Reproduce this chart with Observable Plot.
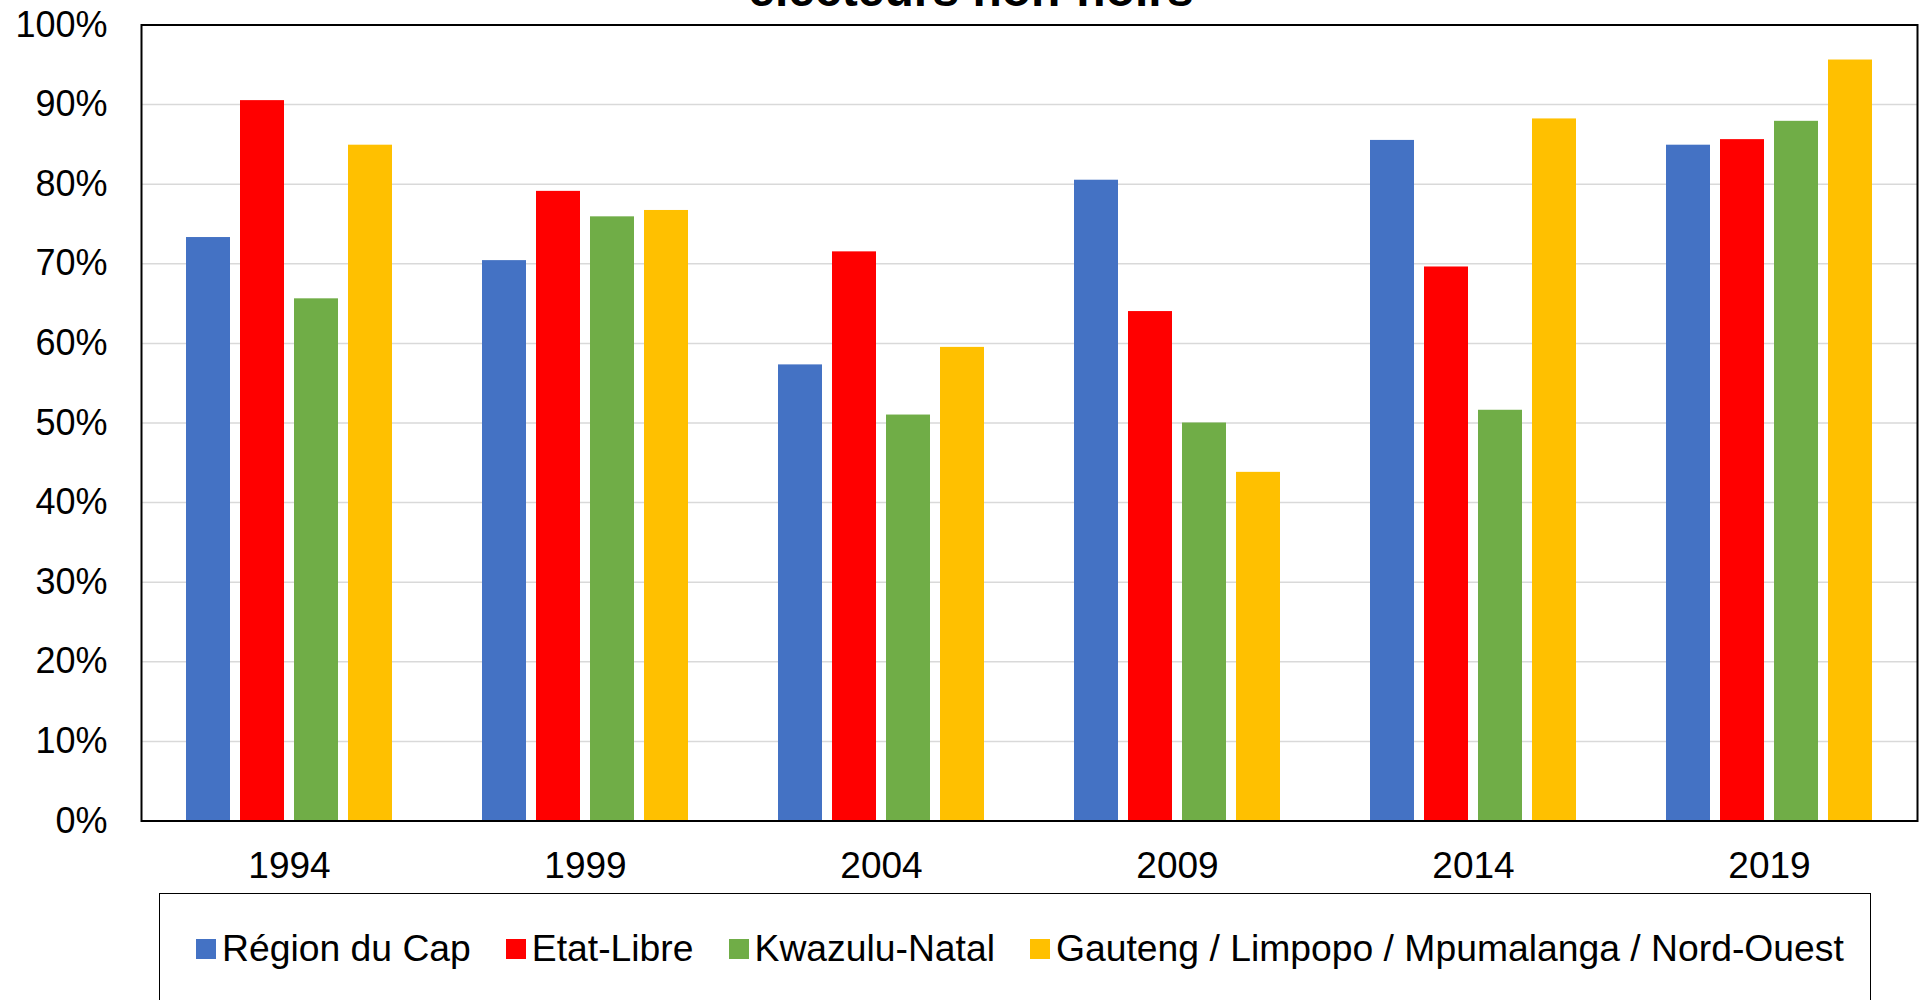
<!DOCTYPE html>
<html>
<head>
<meta charset="utf-8">
<script src="https://cdn.jsdelivr.net/npm/d3@7"></script>
<script src="https://cdn.jsdelivr.net/npm/@observablehq/plot@0.6"></script>
<style>
  html, body { margin: 0; padding: 0; background: #fff; overflow: hidden; }
  body { width: 1919px; height: 1000px; position: relative; font-family: "Liberation Sans", Arial, sans-serif; color: #000; }
  #title { position: absolute; left: 971px; transform: translateX(-50%); top: -34px; font-weight: bold; font-size: 48px; line-height: 48px; white-space: nowrap; }
  #chart { position: absolute; left: 0; top: 0; }
  #legend { position: absolute; left: 159px; top: 893px; width: 1712px; height: 160px; border: 1.5px solid #000; box-sizing: border-box; background: #fff; }
  #legend .row { position: absolute; left: 36px; top: 36px; display: flex; align-items: center; font-size: 37.3px; line-height: 37px; white-space: nowrap; }
  #legend .item { display: flex; align-items: center; margin-right: 35px; }
  #legend .sw { width: 20px; height: 20px; margin-right: 6px; flex: none; }
</style>
</head>
<body>
<div id="title">électeurs non-noirs</div>
<div id="chart"></div>
<div id="legend"><div class="row"></div></div>
<script>
const years = ["1994", "1999", "2004", "2009", "2014", "2019"];
const series = ["Région du Cap", "Etat-Libre", "Kwazulu-Natal", "Gauteng / Limpopo / Mpumalanga / Nord-Ouest"];
const colors = ["#4472C4", "#FF0000", "#70AD47", "#FFC000"];
const capValues = [73.3, 70.4, 57.3, 80.5, 85.5, 84.9];
const etatLibreValues = [90.5, 79.1, 71.5, 64.0, 69.6, 85.6];
const kwazuluValues = [65.6, 75.9, 51.0, 50.0, 51.6, 87.9];
const gautengValues = [84.9, 76.7, 59.5, 43.8, 88.2, 95.6];
const yTicks = [0, 10, 20, 30, 40, 50, 60, 70, 80, 90, 100];

const seriesValues = [capValues, etatLibreValues, kwazuluValues, gautengValues];
const data = [];
years.forEach((year, i) => {
  series.forEach((s, j) => {
    data.push({ year, series: s, value: seriesValues[j][i] });
  });
});

const chart = Plot.plot({
  width: 1919,
  height: 893,
  marginLeft: 141,
  marginRight: 2,
  marginTop: 24.5,
  marginBottom: 72.5,
  style: { fontFamily: "Liberation Sans, Arial, sans-serif", fontSize: "36px", color: "#000", background: "transparent", overflow: "visible" },
  fx: { domain: years, padding: 0, label: null },
  x: { domain: series, paddingInner: 0.185, paddingOuter: 0.833, axis: null },
  y: { domain: [0, 100], label: null },
  color: { domain: series, range: colors },
  marks: [
    Plot.gridY(yTicks, { stroke: "#d9d9d9", strokeOpacity: 1, strokeWidth: 1.5 }),
    Plot.barY(data, { fx: "year", x: "series", y: "value", fill: "series" }),
    Plot.axisY(yTicks, { tickSize: 0, tickPadding: 34, tickFormat: d => d + "%", fontSize: 36, label: null }),
    Plot.axisFx({ anchor: "bottom", tickSize: 0, tickPadding: 31, fontSize: 37, label: null }),
    Plot.frame({ facet: "super", stroke: "#000", strokeWidth: 2 })
  ]
});
document.getElementById("chart").appendChild(chart);

const row = document.querySelector("#legend .row");
series.forEach((s, j) => {
  const item = document.createElement("div");
  item.className = "item";
  const sw = document.createElement("span");
  sw.className = "sw";
  sw.style.background = colors[j];
  const label = document.createElement("span");
  label.textContent = s;
  item.appendChild(sw);
  item.appendChild(label);
  row.appendChild(item);
});
</script>
</body>
</html>
